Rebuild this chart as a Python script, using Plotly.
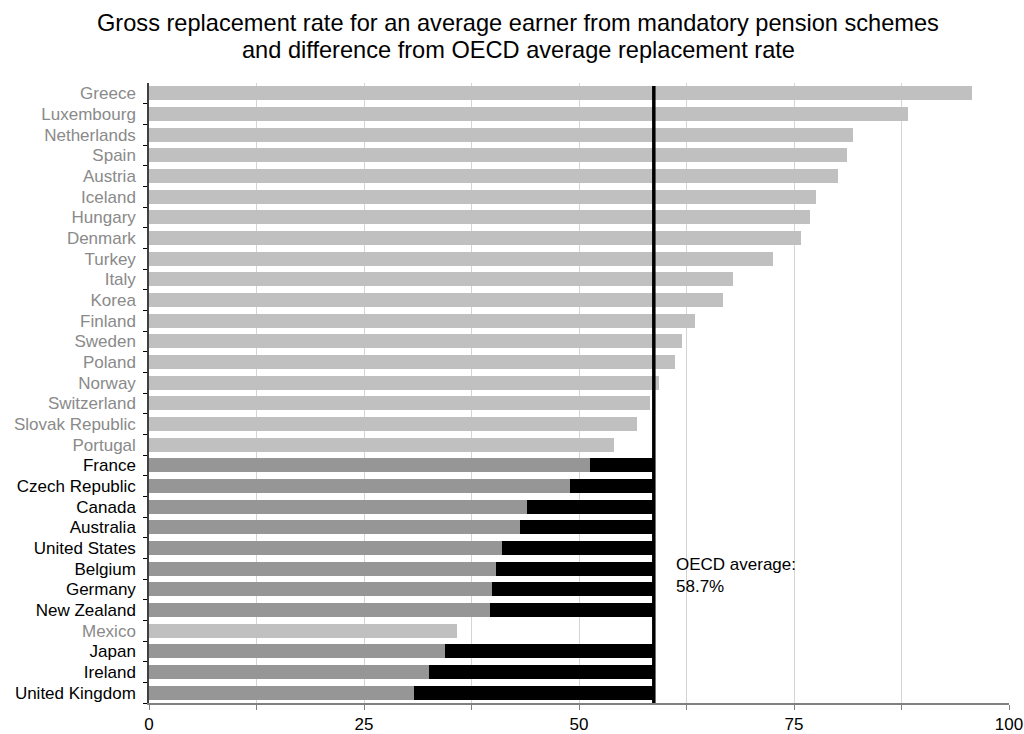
import plotly.graph_objects as go

countries = ["Greece", "Luxembourg", "Netherlands", "Spain", "Austria", "Iceland", "Hungary",
             "Denmark", "Turkey", "Italy", "Korea", "Finland", "Sweden", "Poland", "Norway",
             "Switzerland", "Slovak Republic", "Portugal", "France", "Czech Republic", "Canada",
             "Australia", "United States", "Belgium", "Germany", "New Zealand", "Mexico", "Japan",
             "Ireland", "United Kingdom"]
replacement_rate = [95.7, 88.3, 81.9, 81.2, 80.1, 77.5, 76.9, 75.8, 72.5, 67.9, 66.8, 63.5, 62.0,
                    61.2, 59.3, 58.3, 56.7, 54.1, 51.3, 49.0, 43.9, 43.1, 41.1, 40.4, 39.9, 39.7,
                    35.8, 34.4, 32.6, 30.8]
# countries shown with the lighter bar (no gap segment)
light_group = ["Greece", "Luxembourg", "Netherlands", "Spain", "Austria", "Iceland", "Hungary",
               "Denmark", "Turkey", "Italy", "Korea", "Finland", "Sweden", "Poland", "Norway",
               "Switzerland", "Slovak Republic", "Portugal", "Mexico"]
oecd_avg = 58.7
x_tickvals = [0, 12.5, 25, 37.5, 50, 62.5, 75, 87.5, 100]
x_ticktext = ["0", "", "25", "", "50", "", "75", "", "100"]
title_lines = ["Gross replacement rate for an average earner from mandatory pension schemes",
               "and difference from OECD average replacement rate"]

LIGHT = "#c0c0c0"
DARK = "#969696"
LABEL_GREY = "#8a8a8a"
FONT = "Liberation Sans, Arial, sans-serif"

W, H = 1024, 734
ML, MR, MT, MB = 149, 15, 83, 31
plot_w, plot_h = W - ML - MR, H - MT - MB

bar_colors = [LIGHT if c in light_group else DARK for c in countries]
gap = [0 if c in light_group else round(oecd_avg - v, 2) for c, v in zip(countries, replacement_rate)]
tick_text = [f"<span style='color:{LABEL_GREY}'>{c}</span>" if c in light_group else c for c in countries]

fig = go.Figure()
fig.add_trace(go.Bar(y=countries, x=replacement_rate, orientation="h", marker_color=bar_colors,
                     marker_line_width=0, showlegend=False))
fig.add_trace(go.Bar(y=countries, x=gap, orientation="h", marker_color="#000000",
                     marker_line_width=0, showlegend=False))

fig.add_shape(type="line", xref="x", yref="paper", x0=oecd_avg, x1=oecd_avg, y0=0, y1=0.995,
              line=dict(color="#000000", width=3.5))
fig.add_annotation(xref="x", yref="y", x=oecd_avg + 2.3, y="Germany", yshift=14,
                   text=f"OECD average:<br>{oecd_avg}%", showarrow=False, xanchor="left",
                   align="left", font=dict(size=17, color="#000000", family=FONT))

# two-line title drawn as annotations for tighter line spacing
title_cx = 518  # page pixel x of title centre
for line, base in zip(title_lines, [32, 59]):
    fig.add_annotation(xref="paper", yref="paper", x=(title_cx - ML) / plot_w,
                       y=1 + (MT - base) / plot_h,
                       text=line, showarrow=False, xanchor="center", yanchor="bottom", yshift=-6,
                       font=dict(size=23.6, color="#000000", family=FONT))

fig.update_layout(
    barmode="stack", bargap=0.32,
    width=W, height=H,
    margin=dict(l=ML, r=MR, t=MT, b=MB),
    paper_bgcolor="white", plot_bgcolor="white",
    font=dict(family=FONT, size=17, color="#000000"),
    xaxis=dict(range=[0, 100], tickvals=x_tickvals, ticktext=x_ticktext, showgrid=True,
               gridcolor="#d4d4d4", gridwidth=1, ticks="outside", ticklen=5, tickcolor="#808080",
               showline=True, linecolor="#808080", linewidth=1.5, zeroline=False,
               tickfont=dict(size=17), automargin=False, ticklabelstandoff=0),
    yaxis=dict(categoryorder="array", categoryarray=countries[::-1], tickmode="array",
               tickvals=countries, ticktext=tick_text, ticks="outside",
               tickson="boundaries", ticklen=4, tickcolor="#000000", showline=True,
               linecolor="#404040", linewidth=1.5, showgrid=False, tickfont=dict(size=17),
               automargin=False, ticklabelstandoff=8),
)

# remove the default 8px page margin so the figure fills the window exactly
fig.write_html("out.html", config={"displayModeBar": False},
               post_script="document.body.style.margin='0';document.body.style.overflow='hidden';")
